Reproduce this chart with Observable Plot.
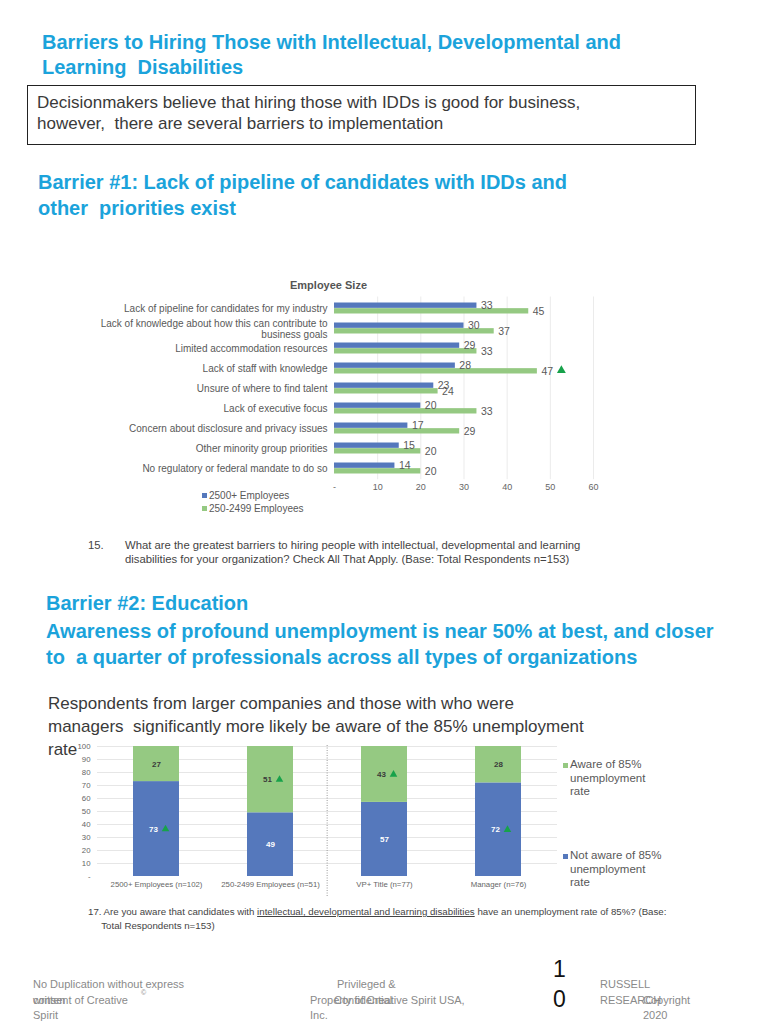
<!DOCTYPE html>
<html>
<head>
<meta charset="utf-8">
<script src="https://cdn.jsdelivr.net/npm/d3@7"></script>
<script src="https://cdn.jsdelivr.net/npm/@observablehq/plot@0.6"></script>
<style>
  html, body { margin: 0; padding: 0; background: #fff; }
  body { width: 768px; height: 1024px; position: relative; overflow: hidden; font-family: "Liberation Sans", Arial, sans-serif; }
  .abs { position: absolute; white-space: nowrap; }
  .head { font-family: "Liberation Sans Narrow", "Liberation Sans", Arial, sans-serif; font-weight: bold; color: #1ba3db; }
  .narrow { font-family: "Liberation Sans Narrow", "Liberation Sans", Arial, sans-serif; color: #3a3a3a; }
  .foot { font-size: 11px; line-height: 15.5px; color: #8a8a8a; }
  .sw { display: inline-block; width: 5px; height: 5px; margin-right: 2px; vertical-align: 1px; }
</style>
</head>
<body>
<script>
// ---------- Data: Chart 1 (Barrier #1) ----------
const barrierCategories = [
  "Lack of pipeline for candidates for my industry",
  "Lack of knowledge about how this can contribute to\nbusiness goals",
  "Limited accommodation resources",
  "Lack of staff with knowledge",
  "Unsure of where to find talent",
  "Lack of executive focus",
  "Concern about disclosure and privacy issues",
  "Other minority group priorities",
  "No regulatory or federal mandate to do so"
];
const employeeSeries = ["2500+ Employees", "250-2499 Employees"];
const valuesLarge = [33, 30, 29, 28, 23, 20, 17, 15, 14];
const valuesMid = [45, 37, 33, 47, 24, 33, 29, 20, 20];
const sigMid = [false, false, false, true, false, false, false, false, false];
const xTicks1 = [0, 10, 20, 30, 40, 50, 60];

// ---------- Data: Chart 2 (Barrier #2) ----------
const groups = ["2500+ Employees (n=102)", "250-2499 Employees (n=51)", "VP+ Title (n=77)", "Manager (n=76)"];
const awarenessSeries = ["Not aware of 85% unemployment rate", "Aware of 85% unemployment rate"];
const notAware = [73, 49, 57, 72];
const aware = [27, 51, 43, 28];
const sigNotAware = [true, false, false, true];
const sigAware = [false, true, true, false];
const yTicks2 = [0, 10, 20, 30, 40, 50, 60, 70, 80, 90, 100];

const BLUE = "#5578bc";
const GREEN = "#95c982";
const SIG = "#17a24a";
</script>

<!-- Page text -->
<div class="abs head" style="left:42px; top:30px; font-size:20px; line-height:25px;">Barriers to Hiring Those with Intellectual, Developmental and<br>Learning&nbsp; Disabilities</div>
<div class="abs" style="left:27px; top:85px; width:667px; height:58px; border:1.5px solid #222;"></div>
<div class="abs narrow" style="left:37px; top:92px; font-size:17px; line-height:21px;">Decisionmakers believe that hiring those with IDDs is good for business,<br>however,&nbsp; there are several barriers to implementation</div>
<div class="abs head" style="left:38px; top:169px; font-size:20px; line-height:26px;">Barrier #1: Lack of pipeline of candidates with IDDs and<br>other&nbsp; priorities exist</div>

<div class="abs" style="left:290px; top:279px; font-size:11px; font-weight:bold; color:#555;">Employee Size</div>
<div id="chart1" class="abs" style="left:0px; top:278px;"></div>
<div class="abs" style="left:202px; top:489px; font-size:10px; line-height:13px; color:#595959;">
  <div><span class="sw" style="background:#5578bc"></span>2500+ Employees</div>
  <div><span class="sw" style="background:#95c982"></span>250-2499 Employees</div>
</div>

<div class="abs" style="left:88px; top:538px; font-size:11.3px; line-height:14px; color:#444;">15.</div>
<div class="abs" style="left:125px; top:538px; font-size:11.3px; line-height:14px; color:#444;">What are the greatest barriers to hiring people with intellectual, developmental and learning<br>disabilities for your organization? Check All That Apply. (Base: Total Respondents n=153)</div>

<div class="abs head" style="left:46px; top:590px; font-size:20px; line-height:26px;">Barrier #2: Education</div>
<div class="abs head" style="left:46px; top:618px; font-size:20px; line-height:26px;">Awareness of profound unemployment is near 50% at best, and closer<br>to&nbsp; a quarter of professionals across all types of organizations</div>

<div class="abs narrow" style="left:48px; top:692px; font-size:17px; line-height:23px;">Respondents from larger companies and those with who were<br>managers&nbsp; significantly more likely be aware of the 85% unemployment<br>rate</div>

<div id="chart2" class="abs" style="left:0px; top:735px;"></div>
<div class="abs" style="left:563px; top:758px; font-size:11.5px; line-height:13.5px; color:#595959;">
  <span class="sw" style="background:#95c982; position:absolute; left:0; top:5px;"></span>
  <div style="padding-left:7px;">Aware of 85%<br>unemployment<br>rate</div>
</div>
<div class="abs" style="left:563px; top:849px; font-size:11.5px; line-height:13.5px; color:#595959;">
  <span class="sw" style="background:#5578bc; position:absolute; left:0; top:5px;"></span>
  <div style="padding-left:7px;">Not aware of 85%<br>unemployment<br>rate</div>
</div>

<div class="abs" style="left:88px; top:905px; font-size:9.7px; line-height:14px; color:#444;">17. Are you aware that candidates with <span style="text-decoration:underline;">intellectual, developmental and learning disabilities</span> have an unemployment rate of 85%? (Base:<br>&nbsp;&nbsp;&nbsp;&nbsp; Total Respondents n=153)</div>

<!-- Footer -->
<div class="abs foot" style="left:33px; top:977px;">No Duplication without express<br>consent of Creative<br>Spirit</div>
<div class="abs foot" style="left:33px; top:992.5px;">written</div>
<div class="abs foot" style="left:141px; top:985px; font-size:7px;">©</div>
<div class="abs foot" style="left:337px; top:977px;">Privileged &amp;</div>
<div class="abs foot" style="left:310px; top:992.5px;">Property of Creative Spirit USA,<br>Inc.</div>
<div class="abs foot" style="left:334px; top:992.5px;">Confidential</div>
<div class="abs" style="left:553px; top:954px; font-size:23px; line-height:30px; color:#111;">1<br>0</div>
<div class="abs foot" style="left:600px; top:977px;">RUSSELL<br>RESEARCH</div>
<div class="abs foot" style="left:643px; top:992.5px;">Copyright<br>2020</div>

<script>
// ---------- Chart 1 ----------
const rows1 = barrierCategories.flatMap((c, i) => [
  {cat: c, series: employeeSeries[0], value: valuesLarge[i], sig: false},
  {cat: c, series: employeeSeries[1], value: valuesMid[i], sig: sigMid[i]}
]);
const s0 = rows1.filter(d => d.series === employeeSeries[0]);
const s1 = rows1.filter(d => d.series === employeeSeries[1]);

const chart1 = Plot.plot({
  width: 620,
  height: 228,
  marginLeft: 334,
  marginRight: 27,
  marginTop: 18.5,
  marginBottom: 26.8,
  style: {fontFamily: "Liberation Sans, Arial, sans-serif", fontSize: "9px", color: "#666", background: "transparent"},
  x: {domain: [0, 60], ticks: xTicks1, tickFormat: d => d === 0 ? "-" : d, tickSize: 0, tickPadding: 4, label: null},
  y: {domain: barrierCategories, padding: 0, axis: null},
  color: {domain: employeeSeries, range: [BLUE, GREEN]},
  marks: [
    Plot.ruleX(xTicks1.slice(1), {stroke: "#ebebeb"}),
    Plot.barX(s0, {x: "value", y: "cat", fill: "series", insetTop: 4.5, insetBottom: 10.15}),
    Plot.barX(s1, {x: "value", y: "cat", fill: "series", insetTop: 10.15, insetBottom: 4.5}),
    Plot.text(s0, {x: "value", y: "cat", text: "value", dx: 4, dy: -2.8, textAnchor: "start", fill: "#595959", fontSize: 10.5}),
    Plot.text(s1, {x: "value", y: "cat", text: "value", dx: 4, dy: 3.2, textAnchor: "start", fill: "#595959", fontSize: 10.5}),
    Plot.dot(s1.filter(d => d.sig), {x: "value", y: "cat", symbol: "triangle", fill: SIG, r: 3.3, dx: 24, dy: 2}),
    Plot.text(barrierCategories, {y: d => d, text: d => d, frameAnchor: "left", textAnchor: "end", dx: -7, fill: "#595959", fontSize: 10, lineHeight: 1.1})
  ]
});
document.getElementById("chart1").appendChild(chart1);

// ---------- Chart 2 ----------
const rows2 = groups.flatMap((g, i) => [
  {group: g, status: awarenessSeries[0], value: notAware[i], sig: sigNotAware[i]},
  {group: g, status: awarenessSeries[1], value: aware[i], sig: sigAware[i]}
]);

const chart2 = Plot.plot({
  width: 560,
  height: 165,
  marginLeft: 97,
  marginRight: 3,
  marginTop: 11,
  marginBottom: 24,
  style: {fontFamily: "Liberation Sans, Arial, sans-serif", fontSize: "7.8px", color: "#666", background: "transparent"},
  x: {domain: groups, paddingInner: 0.6, paddingOuter: 0.306, tickSize: 0, tickPadding: 5, label: null},
  y: {domain: [0, 100], ticks: yTicks2, tickFormat: d => d === 0 ? "-" : d, tickSize: 0, tickPadding: 7, label: null},
  color: {domain: awarenessSeries, range: [BLUE, GREEN]},
  marks: [
    Plot.ruleY(yTicks2.slice(1), {stroke: "#e6e6e6"}),
    Plot.barY(rows2, {x: "group", y: "value", fill: "status"}),
    Plot.ruleX([groups[2]], {x: d => d, dx: -57.35, stroke: "#9a9a9a", strokeDasharray: "1,1.5", insetTop: -1, insetBottom: -21}),
    Plot.text(rows2, Plot.stackY({x: "group", y: "value", z: "status", text: d => d.sig ? "" : d.value,
      fill: d => d.status === awarenessSeries[0] ? "white" : "#3a3a3a", fontWeight: "bold", fontSize: 8})),
    Plot.text(rows2, Plot.stackY({x: "group", y: "value", z: "status", text: d => d.sig ? d.value : "",
      fill: d => d.status === awarenessSeries[0] ? "white" : "#3a3a3a", fontWeight: "bold", fontSize: 8, dx: -3})),
    Plot.dot(rows2, Plot.stackY({x: "group", y: "value", z: "status", symbol: "triangle", r: 2.8,
      fill: d => d.sig ? SIG : "none", stroke: null, dx: 9}))
  ]
});
document.getElementById("chart2").appendChild(chart2);
</script>
</body>
</html>
